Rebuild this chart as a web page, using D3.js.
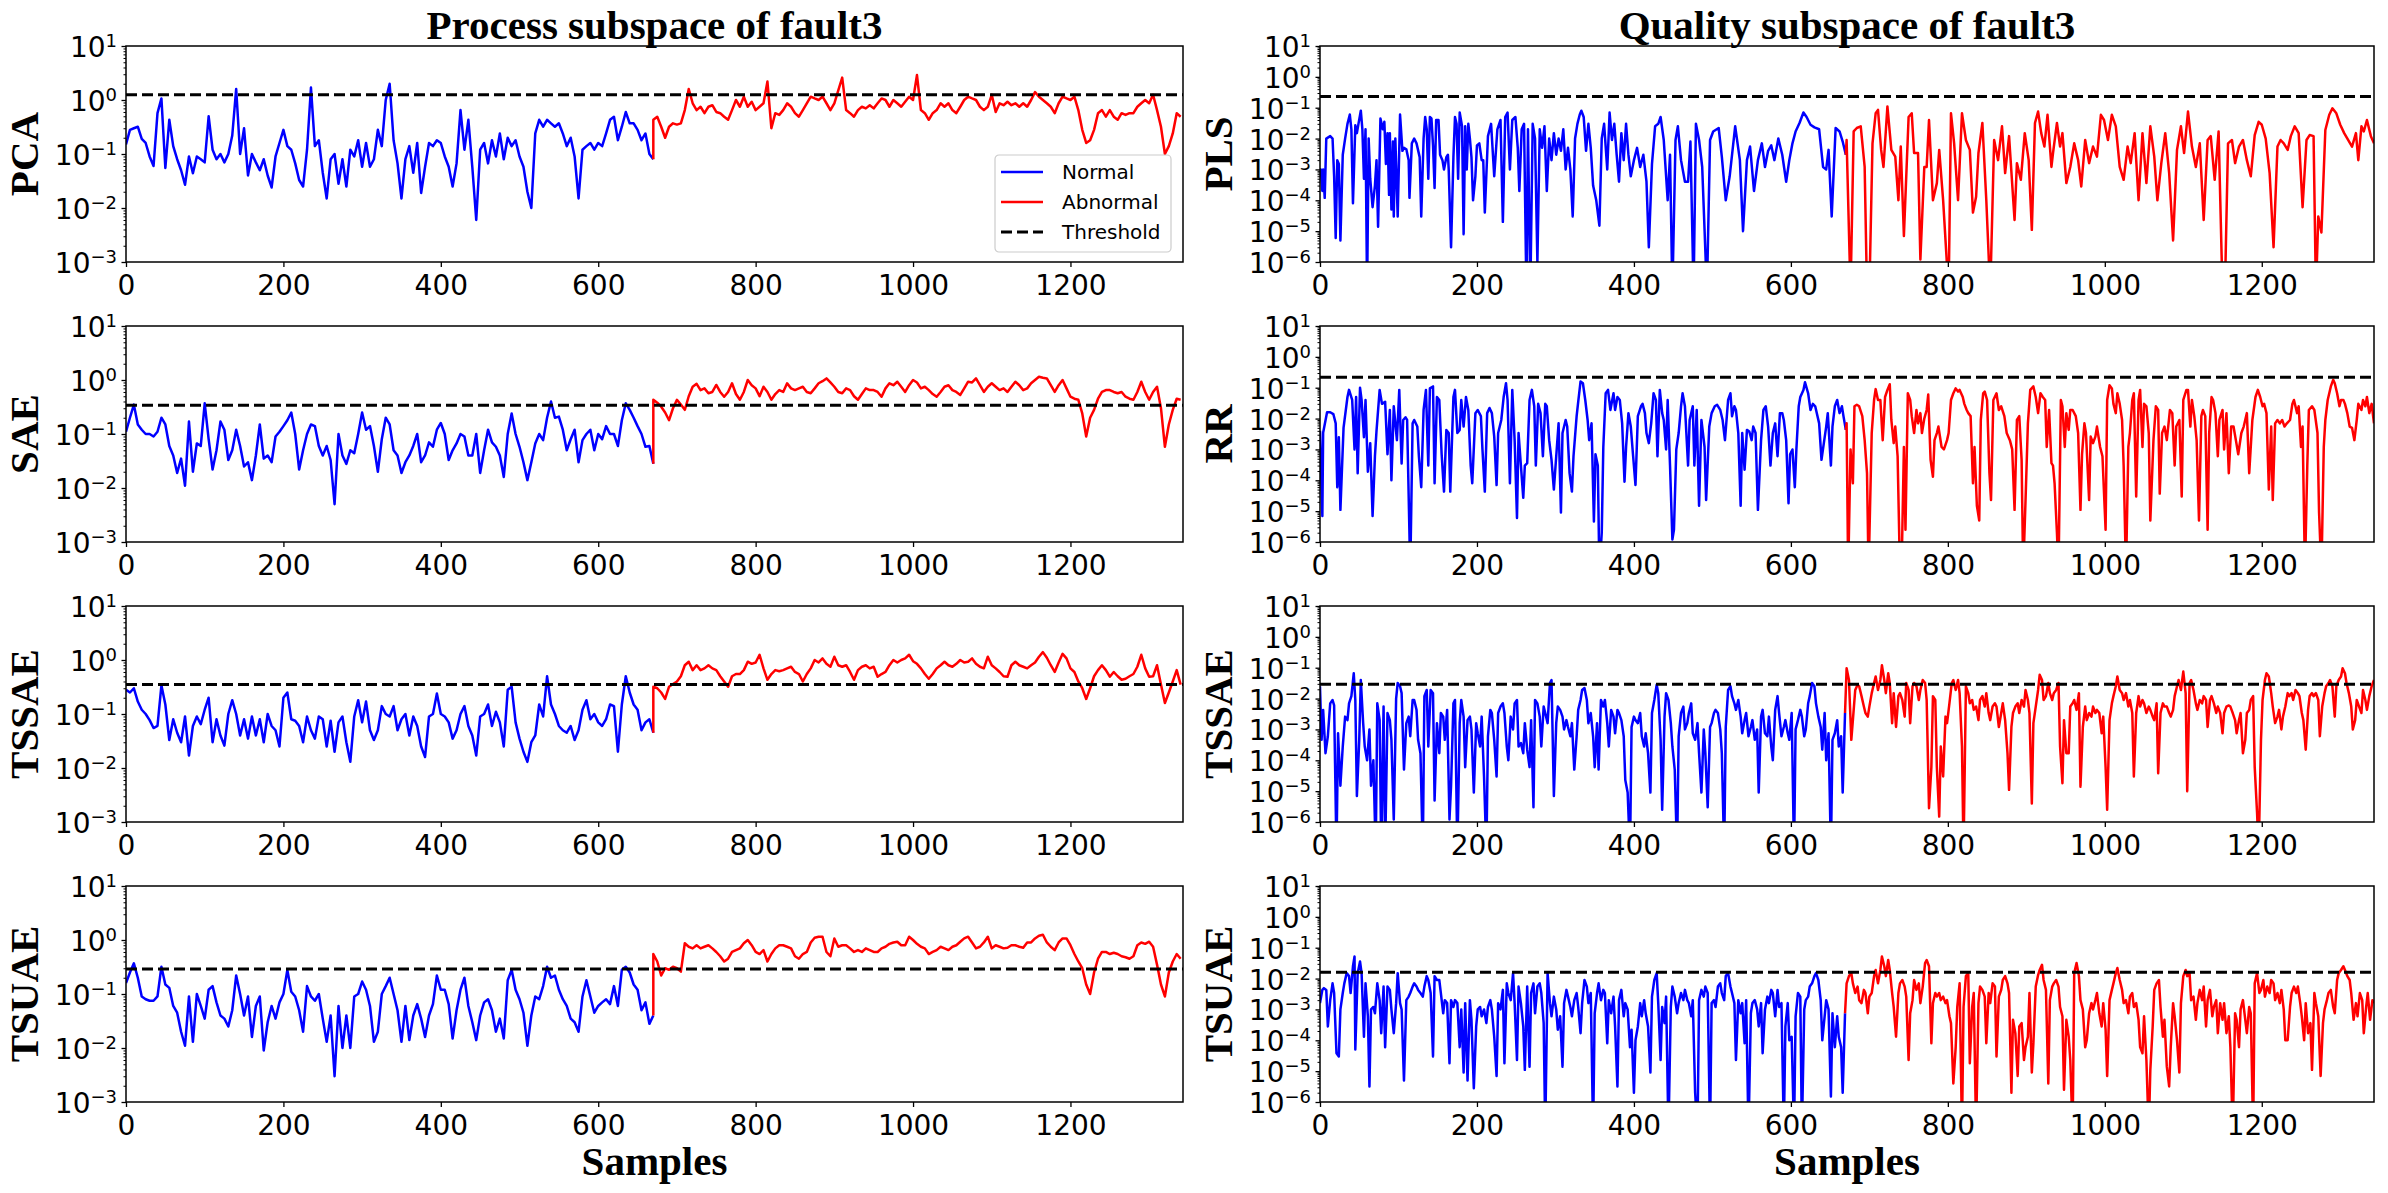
<!DOCTYPE html>
<html>
<head>
<meta charset="utf-8">
<script src="https://cdn.jsdelivr.net/npm/d3@7"></script>
<style>
html, body { margin: 0; padding: 0; background: #fff; }
svg { display: block; }
</style>
</head>
<body>
<div id="chart"></div>
<script>
// ---- data ----
const sampleMax = 1343;
const faultStart = 670;
const processStep = 5;
const xTicks = [0, 200, 400, 600, 800, 1000, 1200];
const processTickExps = [1, 0, -1, -2, -3];
const qualityTickExps = [1, 0, -1, -2, -3, -4, -5, -6];
const panelTitles = ["Process subspace of fault3", "Quality subspace of fault3"];
const legendLabels = ["Normal", "Abnormal", "Threshold"];

// process subspace statistics, one value every 5 samples
const pcaNormal = [0.15,0.28,0.3,0.32,0.19,0.16,0.09,0.06,0.57,1.07,
0.055,0.43,0.14,0.08,0.05,0.027,0.09,0.044,0.09,0.08,
0.07,0.5,0.12,0.08,0.1,0.07,0.1,0.22,1.6,0.1,
0.3,0.04,0.1,0.07,0.05,0.08,0.04,0.024,0.09,0.16,
0.28,0.14,0.12,0.067,0.033,0.025,0.12,1.7,0.14,0.18,
0.045,0.015,0.08,0.1,0.028,0.08,0.025,0.12,0.09,0.18,
0.058,0.16,0.058,0.08,0.28,0.14,1.0,2.0,0.18,0.067,
0.015,0.08,0.14,0.045,0.16,0.019,0.058,0.16,0.14,0.18,
0.16,0.09,0.058,0.025,0.067,0.65,0.12,0.43,0.058,0.006,
0.12,0.16,0.067,0.18,0.09,0.24,0.08,0.2,0.14,0.18,
0.09,0.058,0.02,0.01,0.24,0.43,0.32,0.43,0.37,0.32,
0.37,0.24,0.14,0.2,0.09,0.015,0.12,0.14,0.16,0.12,
0.16,0.14,0.24,0.43,0.49,0.18,0.32,0.6,0.37,0.37,
0.28,0.18,0.24,0.1,0.08];
const pcaAbnormal = [0.43,0.49,0.32,0.2,0.32,0.37,0.35,0.37,0.65,1.6,
0.87,0.65,0.75,0.57,0.75,0.8,0.6,0.57,0.49,0.43,
0.65,1.0,0.75,1.15,0.75,0.93,0.65,0.75,0.87,2.2,
0.3,0.57,0.53,0.65,0.87,0.75,0.57,0.49,0.65,0.87,
1.15,1.07,1.0,1.15,0.87,0.65,0.87,1.5,2.6,0.65,
0.57,0.49,0.65,0.75,0.7,0.8,0.7,0.87,1.07,1.0,
0.75,1.0,0.87,0.75,0.93,1.15,1.0,2.9,0.65,0.57,
0.43,0.57,0.65,0.87,0.75,0.87,0.65,0.57,0.75,1.0,
1.15,1.07,1.0,0.75,0.65,0.75,1.25,0.6,0.87,0.8,
0.93,0.8,0.87,0.75,0.87,0.75,1.0,1.4,1.15,1.0,
0.87,0.75,0.57,0.87,1.15,1.07,1.0,1.15,0.65,0.28,
0.16,0.18,0.28,0.57,0.65,0.49,0.65,0.49,0.43,0.57,
0.53,0.57,0.57,0.75,0.87,1.0,0.87,1.25,0.65,0.32,
0.1,0.14,0.24,0.57,0.49];

const saeNormal = [0.11,0.2,0.35,0.15,0.12,0.1,0.1,0.09,0.11,0.2,
0.15,0.06,0.04,0.019,0.035,0.011,0.17,0.02,0.067,0.06,
0.37,0.08,0.022,0.05,0.17,0.12,0.033,0.05,0.12,0.06,
0.025,0.03,0.014,0.04,0.15,0.035,0.04,0.03,0.09,0.11,
0.14,0.18,0.25,0.1,0.022,0.05,0.1,0.15,0.14,0.06,
0.04,0.06,0.033,0.005,0.1,0.04,0.028,0.05,0.044,0.1,
0.25,0.12,0.14,0.06,0.02,0.08,0.2,0.15,0.05,0.04,
0.019,0.03,0.04,0.06,0.1,0.03,0.04,0.07,0.058,0.12,
0.16,0.1,0.033,0.05,0.067,0.1,0.09,0.04,0.04,0.1,
0.019,0.05,0.12,0.07,0.058,0.04,0.016,0.1,0.24,0.1,
0.058,0.03,0.014,0.03,0.067,0.1,0.077,0.2,0.4,0.2,
0.21,0.12,0.05,0.08,0.12,0.03,0.077,0.1,0.12,0.05,
0.1,0.08,0.14,0.1,0.1,0.06,0.18,0.37,0.28,0.2,
0.14,0.1,0.058,0.06,0.028];
const saeAbnormal = [0.43,0.38,0.32,0.25,0.18,0.3,0.43,0.35,0.28,0.5,
0.75,0.85,0.65,0.7,0.57,0.6,0.81,0.6,0.49,0.6,
0.87,0.55,0.43,0.6,1.0,0.8,0.7,0.5,0.75,0.6,
0.43,0.55,0.65,0.6,0.87,0.7,0.65,0.7,0.75,0.6,
0.57,0.7,0.87,0.95,1.07,0.9,0.75,0.6,0.57,0.7,
0.65,0.5,0.43,0.55,0.7,0.65,0.65,0.6,0.49,0.7,
0.87,0.8,0.93,0.75,0.6,0.8,1.0,0.9,0.7,0.75,
0.65,0.55,0.49,0.6,0.75,0.8,0.65,0.6,0.53,0.7,
0.93,0.9,1.07,0.8,0.6,0.75,0.87,0.75,0.65,0.7,
0.6,0.75,0.93,0.8,0.65,0.7,0.87,1.0,1.15,1.1,
1.07,0.8,0.6,0.8,1.0,0.7,0.49,0.45,0.43,0.24,
0.09,0.2,0.28,0.45,0.6,0.65,0.65,0.6,0.57,0.6,
0.49,0.45,0.43,0.6,0.93,0.6,0.43,0.6,0.75,0.3,
0.058,0.15,0.28,0.45,0.43];

const tssaeNormal = [0.28,0.25,0.3,0.17,0.12,0.1,0.077,0.055,0.06,0.34,
0.15,0.033,0.08,0.045,0.03,0.09,0.017,0.06,0.09,0.065,
0.12,0.2,0.03,0.08,0.04,0.026,0.1,0.18,0.1,0.04,
0.08,0.035,0.09,0.04,0.08,0.03,0.1,0.06,0.05,0.025,
0.2,0.25,0.08,0.075,0.06,0.03,0.09,0.05,0.035,0.09,
0.08,0.025,0.075,0.02,0.07,0.09,0.03,0.013,0.09,0.18,
0.07,0.17,0.05,0.033,0.05,0.14,0.1,0.09,0.14,0.05,
0.08,0.1,0.04,0.09,0.06,0.025,0.016,0.09,0.1,0.24,
0.1,0.09,0.07,0.035,0.05,0.1,0.14,0.06,0.04,0.017,
0.09,0.1,0.15,0.06,0.11,0.07,0.025,0.28,0.32,0.07,
0.035,0.02,0.013,0.03,0.04,0.15,0.09,0.5,0.15,0.1,
0.06,0.05,0.045,0.06,0.033,0.05,0.12,0.18,0.08,0.1,
0.07,0.06,0.08,0.15,0.14,0.02,0.15,0.5,0.25,0.15,
0.12,0.05,0.07,0.08,0.045];
const tssaeAbnormal = [0.32,0.3,0.25,0.19,0.32,0.36,0.4,0.5,0.8,0.93,
0.65,0.8,0.65,0.7,0.8,0.7,0.65,0.5,0.4,0.32,
0.5,0.55,0.55,0.65,0.93,0.85,0.9,1.25,0.7,0.43,
0.55,0.65,0.62,0.65,0.7,0.75,0.6,0.55,0.4,0.55,
0.7,1.0,0.9,1.07,0.85,0.75,1.15,0.8,0.75,0.8,
0.6,0.43,0.65,0.75,0.8,0.7,0.75,0.49,0.55,0.6,
0.8,1.0,0.9,1.0,1.07,1.25,0.95,0.85,0.7,0.55,
0.45,0.55,0.7,0.8,0.93,0.8,0.75,0.85,1.0,0.9,
0.93,1.07,0.85,0.75,0.7,1.15,0.8,0.7,0.6,0.5,
0.49,0.8,0.93,0.8,0.75,0.7,0.8,0.9,1.15,1.4,
1.1,0.8,0.6,0.9,1.3,1.07,0.7,0.6,0.4,0.3,
0.19,0.3,0.5,0.65,0.8,0.65,0.49,0.6,0.5,0.43,
0.45,0.5,0.55,0.75,1.25,0.7,0.49,0.5,0.8,0.35,
0.16,0.25,0.4,0.65,0.35];

const tsuaeNormal = [0.16,0.25,0.37,0.2,0.09,0.08,0.075,0.075,0.09,0.32,
0.15,0.13,0.06,0.045,0.02,0.011,0.09,0.013,0.1,0.06,
0.035,0.12,0.14,0.07,0.04,0.035,0.025,0.05,0.22,0.1,
0.04,0.09,0.016,0.06,0.09,0.009,0.03,0.06,0.035,0.07,
0.1,0.28,0.11,0.09,0.05,0.02,0.14,0.09,0.075,0.1,
0.035,0.013,0.04,0.003,0.06,0.01,0.04,0.01,0.09,0.1,
0.17,0.12,0.06,0.013,0.02,0.1,0.14,0.2,0.1,0.05,
0.013,0.06,0.014,0.04,0.065,0.035,0.016,0.04,0.065,0.22,
0.12,0.12,0.065,0.015,0.05,0.12,0.2,0.06,0.03,0.014,
0.04,0.07,0.08,0.05,0.02,0.035,0.015,0.18,0.28,0.12,
0.08,0.045,0.011,0.04,0.09,0.08,0.14,0.32,0.2,0.22,
0.12,0.08,0.06,0.035,0.03,0.02,0.09,0.18,0.09,0.045,
0.06,0.07,0.08,0.065,0.14,0.06,0.28,0.32,0.25,0.15,
0.12,0.05,0.07,0.028,0.04];
const tsuaeAbnormal = [0.55,0.4,0.22,0.3,0.28,0.32,0.3,0.26,0.87,0.75,
0.7,0.8,0.7,0.75,0.8,0.7,0.6,0.5,0.4,0.45,
0.6,0.65,0.7,0.87,1.0,0.8,0.6,0.55,0.65,0.4,
0.55,0.7,0.8,0.8,0.75,0.7,0.5,0.45,0.55,0.6,
0.9,1.1,1.15,1.15,0.6,0.5,1.07,0.75,0.8,0.8,
0.7,0.6,0.65,0.6,0.7,0.65,0.6,0.6,0.7,0.75,
0.85,0.9,0.93,0.8,0.8,1.15,1.0,0.85,0.75,0.7,
0.55,0.6,0.65,0.75,0.7,0.65,0.75,0.8,0.93,1.07,
1.15,0.9,0.7,0.75,0.9,1.15,0.7,0.8,0.75,0.7,
0.72,0.8,0.8,0.75,0.72,0.9,0.9,1.07,1.2,1.25,
0.9,0.75,0.65,0.9,1.07,1.07,0.8,0.55,0.4,0.3,
0.15,0.1,0.25,0.45,0.6,0.6,0.55,0.58,0.55,0.5,
0.48,0.45,0.5,0.8,0.9,0.85,0.93,0.75,0.35,0.15,
0.09,0.25,0.4,0.55,0.45];

// quality subspace statistics, [sample, value]; values under 1e-6 fall off the axis
const plsNormal = [[0,1e-3],[1,1e-3],[3,2e-4],[4,1e-3],[6,1.2e-4],[8,1e-2],[13,1.2e-2],[16,1e-2],[18,6e-4],[20,6e-6],[22,2e-3],[24,1.5e-3],[26,5e-6],[29,3e-3],[32,1e-2],[35,3e-2],[38,6e-2],[40,2e-2],[42,8e-5],[45,2.7e-2],[47,1.5e-2],[49,3e-2],[52,8e-2],[54,2e-2],[56,5e-4],[58,2e-2],[60,1e-7],[62,1e-2],[64,5e-4],[67,6e-5],[70,3e-4],[72,2e-3],[74,1.4e-5],[77,4.5e-2],[80,2e-2],[82,3.5e-2],[84,1.5e-3],[86,1.5e-2],[88,1.5e-4],[89,1.5e-2],[91,5e-5],[93,8e-3],[94,3e-5],[96,1e-2],[99,3e-5],[102,6e-2],[105,4e-3],[107,5e-3],[110,4.5e-3],[113,2e-3],[114,1.2e-4],[117,7e-3],[120,1e-2],[123,7e-3],[127,2.5e-3],[129,3e-5],[132,1e-2],[134,5e-2],[136,2e-2],[138,5e-4],[140,5e-2],[142,4.5e-2],[144,6e-3],[146,2.5e-4],[148,4e-2],[151,4e-2],[153,3e-3],[156,2e-3],[158,1e-3],[161,2.5e-3],[163,3e-3],[164,1e-3],[167,3e-6],[170,2.5e-3],[172,5e-2],[174,3e-2],[176,5e-4],[178,7e-2],[181,2.5e-2],[183,8e-6],[185,2.5e-2],[187,1e-3],[189,3e-2],[191,1e-2],[193,2.5e-3],[195,1e-4],[198,6e-4],[200,6e-3],[203,7e-3],[206,2e-3],[208,2e-3],[210,4e-5],[214,1.2e-2],
[218,3e-2],[222,6e-4],[226,2e-2],[230,4e-2],[233,2e-5],[236,5e-2],[239,7e-2],[242,1e-3],[245,4e-2],[249,5e-2],[252,5e-3],[254,2e-4],[257,2e-2],[260,3e-2],[263,1e-7],[265,2e-2],[268,1e-7],[271,3e-2],[274,1e-2],[277,1e-6],[280,2e-2],[283,5e-3],[286,2.5e-2],[289,2e-4],[292,1e-2],[295,2e-3],[298,1.5e-2],[301,3e-3],[304,1e-2],[307,4e-3],[310,2e-2],[313,1e-3],[316,5e-3],[319,1e-3],[322,3e-5],[325,1e-2],[328,3e-2],[331,6e-2],[333,8e-2],[336,5e-2],[339,4e-3],[342,3e-2],[345,5e-3],[348,3e-4],[352,1e-4],[356,1.5e-5],[359,1e-2],[362,3e-2],[366,1e-3],[369,7e-2],[372,9e-3],[375,3e-2],[378,3e-3],[381,4e-4],[384,1.5e-2],[387,2e-3],[390,3e-2],[393,3e-3],[396,6e-4],[400,2e-3],[404,5e-3],[408,1.2e-3],[412,3e-3],[416,4e-4],[419,3e-6],[423,1.5e-3],[427,2.5e-2],[431,3e-2],[434,5e-2],[438,9e-3],[443,1e-4],[446,3e-3],[449,1e-7],[453,9e-3],[456,2.5e-2],[460,2e-3],[465,4e-4],[469,4e-4],[472,8e-3],[476,1e-7],[479,3e-2],[483,9e-3],[487,1.2e-3],[493,1e-7],[497,9e-3],[501,1.7e-2],[508,2.2e-2],[512,2.6e-3],[517,1e-4],[522,6e-4],[529,2.5e-2],[535,2e-3],[539,1e-5],[544,2e-3],[548,5.5e-3],[553,2e-4],[558,2e-3],[563,7e-3],[567,1.2e-3],[571,4e-3],[575,6e-3],[579,2e-3],[584,1e-2],[589,3e-3],[594,4e-4],[598,2e-3],[602,7e-3],[606,1.7e-2],[611,3.2e-2],[616,7e-2],[620,5e-2],[625,2.8e-2],[630,2.3e-2],[636,2e-2],[641,1.2e-3],[645,1e-3],[648,4.3e-3],[652,3e-5],[657,2.2e-2],[662,1.7e-2],[666,8e-3],[670,3e-3]];
const plsAbnormal = [[671,9e-3],[676,1e-7],[680,1.7e-2],[684,2.2e-2],[689,2.5e-2],[694,1.2e-3],[697,1e-7],[700,1e-7],[704,7e-3],[708,6.6e-2],[711,8.5e-2],[715,4.3e-3],[718,1.2e-3],[723,1.1e-1],[728,4.3e-3],[733,2.6e-3],[737,1e-4],[740,5.5e-3],[744,7e-6],[750,5e-2],[754,6.6e-2],[757,3.4e-3],[762,3.4e-3],[765,1.2e-6],[770,1.2e-3],[773,1.2e-3],[776,4e-2],[781,1e-4],[786,3.6e-4],[789,4.3e-3],[794,1e-4],[801,1e-7],[804,6.6e-2],[808,7e-3],[813,1e-4],[818,6.6e-2],[823,9e-3],[828,4.3e-3],[832,4e-5],[836,1.3e-4],[839,3.4e-3],[844,3.2e-2],[849,1e-4],[854,1e-7],[859,9e-3],[864,2e-3],[869,2.5e-2],[873,7.6e-4],[878,1.2e-2],[885,2.3e-5],[888,1.6e-3],[893,4.6e-4],[898,1.5e-2],[903,2e-3],[907,1.1e-5],[911,3.2e-2],[915,7.5e-2],[919,1.5e-2],[923,5.5e-3],[927,5.9e-2],[932,1.2e-3],[934,3.4e-3],[939,3.2e-2],[943,5.5e-3],[946,1.5e-2],[951,3.6e-4],[956,1.2e-3],[961,7e-3],[966,2e-3],[970,2.8e-4],[975,9e-3],[980,1.6e-3],[985,5.5e-3],[990,2.6e-3],[995,5.9e-2],[999,4e-2],[1004,9e-3],[1009,5.9e-2],[1014,2.5e-2],[1019,1.2e-3],[1024,4.6e-4],[1029,5.5e-3],[1033,1.6e-3],[1038,1.5e-2],[1043,1e-4],[1048,1.5e-2],[1053,3.6e-4],[1058,2.5e-2],[1063,2.6e-3],[1067,1e-4],[1072,1.6e-3],[1077,1.5e-2],[1082,7.6e-4],[1087,5e-6],[1092,4.3e-3],[1097,2.5e-2],[1101,3.4e-3],[1106,7.5e-2],[1111,5.5e-3],[1116,1.2e-3],[1121,7e-3],[1126,2.3e-5],[1131,9e-3],[1135,1.2e-2],[1140,4.6e-4],[1145,1.7e-2],[1150,1e-7],[1153,1e-7],[1157,7e-3],[1162,9e-3],[1166,1.6e-3],[1171,5.5e-3],[1176,9e-3],[1181,2e-3],[1186,6e-4],[1191,1.3e-2],[1196,3.5e-2],[1200,2.8e-2],[1205,1e-2],[1210,7.6e-4],[1215,3e-6],[1220,5.5e-3],[1224,9e-3],[1228,7e-3],[1233,4.3e-3],[1237,1.2e-2],[1242,2.5e-2],[1247,1.5e-2],[1252,6e-5],[1257,9e-3],[1261,1.3e-2],[1266,1.2e-2],[1269,1e-7],[1272,3e-5],[1276,9e-6],[1281,1.9e-2],[1286,5.9e-2],[1290,9.6e-2],[1295,6.6e-2],[1300,2.8e-2],[1305,1.5e-2],[1310,9e-3],[1315,5.5e-3],[1320,1.5e-2],[1323,2e-3],[1327,2.5e-2],[1330,1.7e-2],[1334,4e-2],[1339,1.2e-2],[1343,7e-3]];

const rrNormal = [[0,4e-3],[3,7e-6],[4,3.5e-3],[9,1.6e-2],[13,1.6e-2],[17,1.4e-2],[20,7e-3],[22,6e-5],[24,2.5e-3],[26,1.1e-5],[30,5e-3],[35,5e-2],[37,8.5e-2],[41,4e-2],[44,1e-3],[46,5e-2],[48,1.7e-4],[51,1e-1],[53,4e-2],[56,2.5e-3],[58,4e-2],[61,1.9e-4],[64,1.6e-3],[67,7e-6],[70,6e-4],[72,4e-3],[76,8.5e-2],[79,3e-2],[83,3.5e-2],[86,7e-4],[89,1.9e-2],[91,1e-4],[94,2.5e-2],[98,2e-3],[101,8.5e-2],[104,3.5e-4],[106,9e-3],[109,1.1e-2],[111,9e-3],[115,1e-7],[118,7e-3],[120,9e-3],[124,5.5e-3],[126,6e-4],[129,6e-5],[132,1.9e-2],[135,8.5e-2],[138,3e-4],[140,9.5e-2],[144,1.1e-1],[146,8e-5],[149,5e-2],[152,4e-2],[155,7e-4],[158,4.3e-5],[161,4.3e-3],[164,3.4e-3],[166,4.3e-5],[170,5e-2],[172,8.5e-2],[175,3.4e-3],[178,4.3e-3],[180,4e-2],[183,5.5e-3],[186,5e-2],[189,1.9e-2],[192,3e-4],[194,8e-5],[198,1.5e-2],[201,1.9e-2],[205,1.2e-2],[207,1e-3],[210,4.3e-5],[213,1.5e-2],[216,2.2e-2],[219,1.5e-2],[222,2.6e-3],[225,7e-5],[227,3.4e-3],[231,9e-3],[234,5e-2],[237,1.4e-1],[239,4e-2],[242,8e-5],[245,8.5e-2],[248,2e-3],[251,6e-6],[253,3.4e-3],[256,3e-4],[259,2.7e-5],[261,3e-4],[264,3.6e-4],[267,4e-2],[270,8.5e-2],[273,2.5e-2],[275,3e-4],[278,3e-2],[281,1.5e-2],[284,6e-4],[287,3e-2],[289,2.5e-2],[292,2e-3],[295,4.6e-4],[298,5e-5],[301,6e-4],[304,7e-3],[307,9e-6],[309,3.4e-3],[313,9e-3],[315,5.5e-3],[318,1.7e-4],[321,4.3e-5],[323,6e-4],[327,1.2e-2],[329,3.5e-2],[332,1.6e-1],[335,1.4e-1],[338,4e-2],[341,9e-3],[343,2e-3],[346,7e-3],[349,4.6e-6],[351,7e-4],[354,3e-4],[356,1e-7],[359,2e-6],[361,1.2e-3],[364,6.6e-2],[367,8.5e-2],[370,1.9e-2],[374,6.6e-2],[376,1.9e-2],[379,5e-2],[382,4e-2],[385,7e-3],[388,9e-5],[390,1.2e-3],[393,1.5e-2],[396,5.5e-3],[399,6e-4],[402,7e-5],[405,1.2e-2],[409,2.5e-2],[411,3e-2],[414,1.5e-2],[416,3.4e-3],[419,1.6e-3],[422,7e-3],[425,6.6e-2],[428,4e-2],[430,6e-4],[433,8.5e-2],[436,1.5e-2],[438,9e-3],[441,1e-3],[443,4e-2],[446,3e-4],[449,1.2e-6],[451,2.5e-6],[454,1e-3],[457,3.4e-3],[460,2.5e-2],[462,6.6e-2],[465,2.5e-2],[469,3e-4],[471,9e-3],[475,2.5e-2],[477,3e-4],[480,1.9e-2],[483,1.5e-5],[486,9e-3],[490,1.2e-3],[492,2.3e-5],[496,5.5e-3],[499,1.5e-2],[503,2.5e-2],[506,2.8e-2],[510,1.9e-2],[513,9e-3],[516,2e-3],[520,4e-2],[523,6.6e-2],[525,1.2e-2],[528,2.5e-2],[530,1.9e-2],[533,3.4e-3],[536,1.5e-5],[538,3.4e-3],[541,2.2e-4],[544,4.3e-3],[547,3.8e-3],[550,2e-3],[552,5.5e-3],[555,3.4e-3],[558,1.1e-5],[562,2e-3],[565,1.9e-2],[568,2.5e-2],[571,5.5e-3],[574,3e-4],[577,3.4e-3],[580,7e-3],[583,6e-4],[586,1.5e-2],[589,1.5e-2],[591,9e-3],[594,2e-3],[597,1.8e-5],[599,7e-4],[602,1e-3],[605,6e-5],[607,1e-3],[610,2.5e-2],[612,5e-2],[616,8.5e-2],[618,1.5e-1],[622,6.6e-2],[625,1.9e-2],[628,3e-2],[631,2.5e-2],[636,7e-3],[639,4.6e-4],[642,1.6e-3],[645,5.5e-3],[647,1.5e-2],[651,3e-4],[653,5.5e-3],[656,2.5e-2],[659,4e-2],[662,1.5e-2],[665,2.5e-2],[667,1.2e-2],[670,4.3e-3]];
const rrAbnormal = [[671,7e-3],[673,1e-7],[676,1e-3],[679,8e-5],[681,2.5e-2],[684,2.8e-2],[687,2.5e-2],[691,1.2e-2],[694,2e-3],[697,1.7e-4],[699,1e-7],[703,3.4e-3],[706,4e-2],[708,9e-2],[711,4e-2],[714,4e-2],[717,2e-3],[720,5e-2],[723,8.5e-2],[726,1.3e-1],[728,9e-3],[731,1.6e-3],[733,5.5e-3],[736,6e-4],[739,1e-7],[741,1e-7],[744,1.2e-3],[746,2.5e-6],[749,6.6e-2],[752,4e-2],[754,1.2e-2],[757,3.4e-3],[760,1.9e-2],[762,7e-3],[765,1.5e-2],[767,3.4e-3],[770,1e-2],[773,1.9e-2],[775,6e-2],[778,4.6e-4],[781,1.3e-4],[783,2e-3],[786,3.4e-3],[788,5.5e-3],[792,1.2e-3],[795,1e-3],[799,2e-3],[801,3.4e-3],[804,4e-2],[807,6.6e-2],[810,9.5e-2],[813,7.5e-2],[815,8.5e-2],[819,5e-2],[821,3e-2],[824,1.9e-2],[826,1.5e-2],[829,1.2e-2],[832,8e-5],[834,1.2e-3],[837,1.5e-5],[840,5e-6],[842,9e-3],[845,6.6e-2],[847,7.5e-2],[850,4e-2],[853,1.7e-4],[855,2.3e-5],[858,4e-2],[862,6.6e-2],[865,1.9e-2],[868,2.5e-2],[872,1.2e-2],[875,3.4e-3],[879,2e-3],[882,1e-3],[885,1.1e-5],[888,9e-3],[891,1.2e-2],[894,4.6e-4],[896,1e-7],[899,2.3e-5],[902,7e-3],[905,8.5e-2],[909,1.1e-1],[912,5e-2],[915,1.5e-2],[918,6.6e-2],[921,5e-2],[924,4e-2],[926,1.2e-3],[929,1.9e-2],[932,3.6e-4],[934,3e-4],[936,8e-5],[939,2e-6],[941,1e-7],[944,4e-2],[946,2.5e-2],[949,1.2e-3],[951,1.5e-2],[954,4.3e-3],[956,1.9e-2],[959,1.9e-2],[963,1.2e-2],[966,3.4e-3],[969,1.1e-5],[971,7e-4],[974,7e-3],[976,3.4e-3],[980,2.3e-5],[982,2.6e-3],[985,1.6e-3],[988,2.6e-3],[990,5.5e-3],[994,1.2e-3],[997,6e-4],[1001,2.5e-6],[1003,4e-2],[1006,1.2e-1],[1009,9.5e-2],[1011,3e-2],[1014,1.5e-2],[1016,6.6e-2],[1019,3e-2],[1022,9e-3],[1024,3e-4],[1027,1e-7],[1030,1.2e-3],[1032,3.4e-3],[1035,4e-2],[1037,6.6e-2],[1040,3e-5],[1043,4e-2],[1045,8.5e-2],[1048,1.2e-3],[1050,3e-2],[1053,2.5e-2],[1056,3.4e-3],[1058,5e-6],[1062,2e-3],[1065,2.5e-2],[1068,1.9e-2],[1070,3.7e-5],[1073,3.4e-3],[1076,5.5e-3],[1079,2e-3],[1083,1.9e-2],[1086,1.5e-2],[1089,3e-4],[1091,5.5e-3],[1095,9e-3],[1098,3e-5],[1100,4e-2],[1104,8.5e-2],[1106,8.5e-2],[1109,5.5e-3],[1111,4e-2],[1114,1.2e-2],[1117,2e-3],[1120,5e-6],[1123,1.2e-2],[1125,1.9e-2],[1128,1.2e-2],[1131,2.5e-6],[1133,3.4e-3],[1136,5e-2],[1138,4e-2],[1141,1.5e-2],[1144,6e-4],[1146,9e-3],[1150,1.9e-2],[1152,1e-3],[1155,1.5e-2],[1158,1.7e-4],[1161,5.5e-3],[1164,5.5e-3],[1167,2e-3],[1170,7e-4],[1174,3.4e-3],[1177,5.5e-3],[1181,1.5e-2],[1184,1.7e-4],[1188,9e-3],[1192,5e-2],[1195,8.5e-2],[1198,5e-2],[1201,2.5e-2],[1203,3e-2],[1206,1.5e-2],[1209,5e-5],[1212,5.5e-3],[1214,2.3e-5],[1217,7e-3],[1220,9e-3],[1223,7e-3],[1226,9e-3],[1229,5.5e-3],[1232,7e-3],[1236,9e-3],[1239,3e-2],[1241,4e-2],[1245,1.5e-2],[1247,2.5e-2],[1250,1.2e-3],[1252,5.5e-3],[1255,1e-7],[1258,3e-4],[1260,1.9e-2],[1264,2.5e-2],[1267,1.9e-2],[1271,3.4e-3],[1273,9e-6],[1276,1e-7],[1279,1.2e-3],[1281,9e-3],[1284,4e-2],[1288,1.1e-1],[1291,1.8e-1],[1293,1.4e-1],[1296,6.6e-2],[1299,2.5e-2],[1301,4e-2],[1304,4e-2],[1306,3e-2],[1309,1.5e-2],[1312,5.5e-3],[1315,5e-3],[1318,2e-3],[1321,9e-3],[1323,3e-2],[1327,1.9e-2],[1329,4e-2],[1332,2.5e-2],[1334,5e-2],[1337,1.5e-2],[1340,3e-2],[1343,7e-3]];

const tssaeQNormal = [[0,2.5e-2],[2,4.6e-4],[4,4.3e-3],[7,1.7e-4],[10,6e-4],[13,7e-3],[16,9e-3],[18,6e-3],[21,1e-7],[23,7.5e-4],[26,1.5e-5],[29,2.8e-4],[32,2.6e-3],[35,2e-3],[37,7e-3],[40,1.2e-2],[43,6.6e-2],[45,9e-3],[47,7e-6],[50,4.6e-4],[52,4e-2],[55,1.6e-3],[57,2.8e-4],[60,1e-4],[63,1e-3],[65,1.5e-5],[68,1e-4],[71,1e-7],[73,7e-3],[76,2e-3],[78,1e-7],[81,5.5e-3],[83,1e-7],[86,3.4e-3],[89,2e-3],[91,4.6e-4],[94,1.2e-6],[97,1e-2],[99,3.2e-2],[102,2.5e-2],[104,1.5e-2],[107,5e-5],[110,1.6e-3],[113,2.6e-3],[115,6e-4],[118,9e-3],[120,9e-3],[123,4.3e-3],[125,4.6e-4],[128,1.7e-4],[131,1e-7],[133,1.2e-2],[136,1.9e-2],[138,2.8e-4],[141,1.9e-2],[144,1.5e-2],[146,5e-6],[149,1.6e-3],[152,1.7e-4],[154,3.4e-3],[157,2.6e-3],[159,4.6e-4],[162,4.3e-3],[165,1.2e-6],[167,1.5e-5],[170,7e-3],[172,9e-3],[175,1e-7],[178,1.6e-3],[180,9e-3],[183,2.6e-3],[185,6e-5],[188,2e-3],[191,2.6e-3],[193,1e-3],[196,9e-6],[199,1.6e-3],[201,7.5e-4],[204,2.8e-4],[206,2.6e-3],[209,3e-5],[212,1e-7],[214,6e-4],[217,4.3e-3],[219,3.4e-3],[222,4.6e-4],[225,3e-5],[227,3.4e-3],[230,5.5e-3],[233,7e-3],[235,3.4e-3],[238,2.8e-4],[240,1e-4],[243,2.6e-3],[246,1e-3],[248,7e-3],[251,9e-3],[253,2.8e-4],[256,3.6e-4],[259,1.7e-4],[261,1.6e-3],[264,2.2e-4],[267,6e-5],[269,2e-3],[272,3e-6],[274,9e-3],[277,7e-3],[280,2.6e-3],[282,2.8e-4],[285,5.5e-3],[287,3.4e-3],[290,1.6e-3],[293,3.2e-2],[295,4e-2],[298,7e-6],[301,1.6e-3],[303,5.5e-3],[306,4.3e-3],[309,2.6e-3],[311,1e-3],[314,2e-3],[316,1.2e-3],[319,6e-4],[321,1.6e-3],[324,5e-5],[327,6e-4],[329,4.3e-3],[332,9e-3],[334,1.9e-2],[337,2.2e-2],[340,9e-3],[342,1.6e-3],[345,3.4e-3],[348,6e-4],[350,6e-5],[353,1.6e-3],[355,5e-5],[358,9e-3],[361,5.5e-3],[363,9e-3],[366,1.6e-3],[368,2.8e-4],[371,4.3e-3],[374,2.6e-3],[376,7.5e-4],[379,4.3e-3],[381,3.4e-3],[384,2e-3],[387,6e-4],[389,2.3e-5],[392,9e-6],[395,1e-7],[397,1.2e-3],[400,2.6e-3],[402,2e-3],[405,1.6e-3],[408,3.4e-3],[410,6e-4],[413,2.8e-4],[415,7.5e-4],[418,1.7e-4],[421,9e-6],[423,3.4e-3],[426,9e-3],[429,2.8e-2],[431,1.5e-2],[434,4.6e-4],[436,2.5e-6],[439,2.6e-3],[441,1.5e-2],[444,9e-3],[447,1.6e-3],[449,2.8e-4],[452,5e-5],[455,1e-7],[457,6e-4],[460,3.4e-3],[463,5.5e-3],[465,1e-3],[468,1.6e-3],[470,3.4e-3],[473,7e-3],[475,7.5e-4],[478,4.6e-4],[481,1.6e-3],[483,1.7e-4],[486,9e-6],[489,1e-3],[491,1.7e-4],[494,3e-6],[497,1.2e-3],[499,1.6e-3],[502,3.4e-3],[504,4.3e-3],[507,3.4e-3],[510,1e-3],[512,1.7e-4],[515,1e-7],[517,1.2e-3],[520,1.9e-2],[523,2.5e-2],[525,1.2e-2],[528,7e-3],[530,4.3e-3],[533,9e-3],[536,2.6e-3],[538,7.5e-4],[541,2e-3],[543,3.4e-3],[546,6e-4],[549,1.2e-3],[551,2e-3],[554,4.6e-4],[557,1e-3],[559,9e-6],[562,2.6e-3],[564,4.3e-3],[567,7.5e-4],[570,6e-4],[572,2.6e-3],[575,2.8e-4],[577,1e-4],[580,4.3e-3],[583,1.2e-2],[585,3.4e-3],[588,6e-4],[591,1.2e-3],[593,2e-3],[596,7.5e-4],[598,4.6e-4],[601,3.4e-3],[604,1e-7],[606,1e-3],[609,2e-3],[612,4.3e-3],[614,2.6e-3],[617,6e-4],[619,1e-3],[622,7e-3],[624,1.2e-2],[627,3.2e-2],[630,2.5e-2],[632,7e-3],[635,2.6e-3],[638,1.2e-3],[640,2.2e-4],[643,3.4e-3],[645,1e-4],[648,7.5e-4],[651,1e-7],[653,4.6e-4],[656,7.5e-4],[659,2e-3],[661,2.8e-4],[664,6e-4],[666,9e-6],[669,3.4e-3]];
const tssaeQAbnormal = [[671,9.6e-2],[674,4e-2],[677,4.6e-4],[679,2e-3],[682,1.9e-2],[685,2.8e-2],[687,2.5e-2],[690,1.2e-2],[693,5.5e-3],[695,3.4e-3],[698,2.6e-3],[700,5.5e-3],[703,1.5e-2],[706,3.2e-2],[708,5.2e-2],[711,1.9e-2],[714,4e-2],[716,1.2e-1],[719,4e-2],[721,1.5e-2],[724,6.6e-2],[726,3.2e-2],[729,1.6e-3],[731,1.5e-2],[734,1.2e-3],[737,1.2e-2],[739,1.5e-2],[742,9e-3],[745,2.6e-3],[747,3.2e-2],[750,1.9e-2],[752,1.6e-3],[755,2.5e-2],[757,3.2e-2],[760,2.5e-2],[763,9e-3],[765,1.9e-2],[768,4e-2],[771,3.2e-2],[773,9e-3],[776,2.8e-6],[779,6e-5],[781,1.2e-2],[784,9e-3],[786,6e-5],[789,1.5e-6],[791,2.8e-4],[794,3e-5],[797,2.6e-3],[799,1.6e-3],[802,7e-3],[805,3.2e-2],[807,4e-2],[810,1.9e-2],[813,4e-2],[815,1.5e-2],[818,2.8e-4],[820,1e-7],[823,2.5e-2],[826,1.5e-2],[828,7e-3],[831,9e-3],[833,4.3e-3],[836,5.5e-3],[839,2e-3],[841,9e-3],[844,1.2e-2],[847,5.5e-3],[849,1.5e-2],[852,3.4e-3],[854,2e-3],[857,5.5e-3],[860,7e-3],[862,5.5e-3],[865,1.2e-3],[868,3.4e-3],[870,7e-3],[873,2e-3],[876,1.7e-4],[878,1.1e-5],[881,1.2e-3],[883,3.4e-3],[886,5.5e-3],[889,7e-3],[891,3.4e-3],[894,9e-3],[897,5.5e-3],[899,1.9e-2],[902,9e-3],[904,3.4e-3],[907,4e-6],[909,1.6e-3],[912,5.5e-3],[915,1.9e-2],[917,5.9e-2],[920,4e-2],[922,9e-3],[925,1.2e-2],[928,3.2e-2],[930,1.5e-2],[933,9e-3],[935,1.5e-2],[938,1.9e-2],[941,3.2e-2],[943,2.8e-4],[946,1.8e-5],[948,2e-3],[951,1.7e-4],[954,1.7e-4],[956,5.5e-3],[959,7e-3],[961,9e-3],[964,4.3e-3],[967,1.5e-2],[969,1.4e-5],[972,1.2e-3],[975,5.5e-3],[977,2e-3],[980,3.4e-3],[983,2.6e-3],[985,5.5e-3],[988,3.4e-3],[990,4.3e-3],[993,3.4e-3],[996,7.5e-4],[998,2.6e-3],[1001,6e-5],[1003,2.5e-6],[1006,2e-3],[1009,7e-3],[1011,1.2e-2],[1014,2.5e-2],[1016,5.2e-2],[1019,1.9e-2],[1022,1.5e-2],[1024,9e-3],[1027,1.5e-2],[1030,5.5e-3],[1032,9e-3],[1035,3.4e-3],[1037,3e-5],[1040,3.4e-3],[1043,1.2e-2],[1045,5.5e-3],[1048,9e-3],[1050,7e-3],[1053,3.4e-3],[1056,5.5e-3],[1058,4.3e-3],[1061,2.6e-3],[1063,2e-3],[1066,7e-3],[1068,3.8e-5],[1071,3.4e-3],[1074,7e-3],[1076,5.5e-3],[1079,5.5e-3],[1082,3.4e-3],[1084,2.6e-3],[1087,4.3e-3],[1089,1.2e-2],[1092,2.5e-2],[1094,4e-2],[1097,1.9e-2],[1100,7.5e-2],[1103,1.5e-2],[1105,1e-5],[1108,3.2e-2],[1110,4e-2],[1113,1.9e-2],[1116,7e-3],[1118,4.3e-3],[1121,9e-3],[1124,7e-3],[1126,1.2e-2],[1129,9e-3],[1131,1.2e-3],[1134,9e-3],[1136,1.2e-2],[1139,7e-3],[1142,3.4e-3],[1144,5.5e-3],[1147,3.4e-3],[1150,7.5e-4],[1152,3.4e-3],[1155,5.5e-3],[1158,6e-3],[1160,5.5e-3],[1163,3.4e-3],[1166,2e-3],[1168,7.5e-4],[1171,2e-3],[1173,3.4e-3],[1176,1.7e-4],[1179,4.6e-4],[1181,3.4e-3],[1184,4.3e-3],[1186,9e-3],[1189,1.2e-2],[1191,6e-5],[1194,2e-6],[1196,1e-7],[1199,4.6e-4],[1201,9e-3],[1204,4e-2],[1206,6.6e-2],[1209,5.2e-2],[1212,1.5e-2],[1214,5.5e-3],[1217,1.6e-3],[1220,2.6e-3],[1222,4.3e-3],[1225,1e-3],[1227,2.6e-3],[1230,5.5e-3],[1233,1.5e-2],[1235,1.2e-2],[1238,1.5e-2],[1240,9e-3],[1243,1.9e-2],[1246,1.5e-2],[1248,1.2e-2],[1251,3.4e-3],[1253,2e-3],[1256,2.2e-4],[1259,4.3e-3],[1261,1.2e-2],[1264,1.5e-2],[1266,1.2e-2],[1269,1.5e-2],[1272,9e-3],[1274,6e-4],[1277,5.5e-3],[1280,1.5e-2],[1282,2.5e-2],[1285,3.2e-2],[1287,4e-2],[1290,2.5e-2],[1293,2.6e-3],[1295,2.5e-2],[1298,4e-2],[1301,5.2e-2],[1303,9.6e-2],[1306,6.6e-2],[1308,3.2e-2],[1311,1.5e-2],[1314,5.5e-3],[1316,1e-3],[1319,2e-3],[1321,9e-3],[1324,5.5e-3],[1327,3.4e-3],[1329,1.9e-2],[1332,9e-3],[1334,4.3e-3],[1337,1.2e-2],[1340,2.5e-2],[1343,4e-2]];

const tsuaeQNormal = [[0,1.6e-3],[3,4.3e-3],[5,4.9e-3],[8,4.3e-3],[10,2.8e-4],[13,2e-3],[16,7e-3],[18,3.4e-3],[21,3.8e-5],[24,3e-5],[26,1e-3],[29,3.4e-3],[31,7e-3],[34,1.5e-2],[37,1.2e-2],[39,3.4e-3],[42,2.5e-2],[44,5.2e-2],[45,5e-5],[48,1.5e-2],[51,3.6e-2],[53,1.5e-2],[56,1.3e-4],[58,7e-3],[61,6e-4],[63,3.2e-6],[65,1e-3],[68,1.2e-3],[70,7.5e-4],[73,7e-3],[76,2e-3],[78,1.7e-4],[81,5.5e-3],[83,6e-5],[86,5.5e-3],[89,4.3e-3],[91,1e-3],[94,1.7e-4],[97,1.6e-3],[99,1.5e-2],[102,1.6e-3],[104,1e-3],[107,5e-6],[110,2e-3],[113,2.6e-3],[115,3.4e-3],[118,5.5e-3],[120,7e-3],[123,5.5e-3],[125,4.3e-3],[128,3.4e-3],[131,2.6e-3],[133,5.5e-3],[136,1.2e-2],[138,9e-3],[141,3.4e-3],[144,3e-5],[146,1.2e-2],[149,9e-3],[152,9e-3],[154,3.4e-3],[157,7.5e-4],[159,2e-3],[162,1.6e-3],[165,1.8e-5],[167,2e-3],[170,1.2e-3],[172,2e-3],[175,1.6e-3],[178,6e-5],[180,1e-3],[183,9e-6],[185,1.6e-3],[188,5e-6],[191,2e-3],[193,4.6e-4],[196,2.8e-6],[199,2.8e-4],[201,1e-3],[204,1.2e-3],[206,6e-4],[209,1e-3],[212,3.6e-4],[214,1.2e-3],[217,2e-3],[219,1e-3],[222,1.3e-4],[225,7e-6],[227,1.6e-3],[230,1e-3],[233,4.3e-3],[235,1.8e-5],[238,7e-3],[240,3.4e-3],[243,2e-3],[246,1.5e-2],[248,1.6e-3],[251,2.3e-5],[253,5.5e-3],[256,1.6e-3],[259,2.8e-4],[261,1.1e-5],[264,5.5e-3],[267,1.4e-5],[269,3.4e-3],[272,7e-3],[274,7.5e-4],[277,5.5e-3],[280,7e-3],[282,3.4e-3],[285,3.6e-4],[287,1e-7],[290,1.5e-2],[293,1.6e-3],[295,6e-4],[298,2.6e-3],[301,1e-3],[303,2.2e-4],[306,6e-4],[309,1.4e-5],[311,1.6e-3],[314,4.3e-3],[316,2.6e-3],[319,1.2e-3],[321,6e-4],[324,2e-3],[327,3.4e-3],[329,1.2e-3],[332,1.7e-4],[334,1.6e-3],[337,9e-3],[340,5.5e-3],[342,1.6e-3],[345,3.4e-3],[348,1e-7],[350,7.5e-4],[353,3.4e-3],[355,7e-3],[358,2e-3],[361,4.3e-3],[363,3.4e-3],[366,8e-5],[368,2e-3],[371,7.5e-4],[374,2.6e-3],[376,2.8e-4],[379,3.2e-6],[381,2e-3],[384,4.3e-3],[387,6e-4],[389,1.6e-3],[392,1e-3],[395,6e-5],[397,2.2e-4],[400,2e-6],[402,1e-4],[405,2.8e-4],[408,1.6e-3],[410,6e-4],[413,2e-3],[415,7.5e-4],[418,2.8e-4],[421,9e-6],[423,2.6e-3],[426,9e-3],[429,1.5e-2],[431,1.6e-3],[434,2.3e-5],[436,1.2e-3],[439,3.6e-4],[441,2.6e-3],[444,1e-7],[447,1.2e-3],[449,5.5e-3],[452,2.6e-3],[455,7.5e-4],[457,1.6e-3],[460,3.4e-3],[463,2e-3],[465,4.3e-3],[468,2e-3],[470,1.6e-3],[473,6e-4],[475,2e-3],[478,2e-6],[481,1e-7],[483,2e-3],[486,4.3e-3],[489,2.6e-3],[491,5.5e-3],[494,3.4e-3],[497,1e-7],[499,1.6e-3],[502,2e-3],[504,1.2e-3],[507,5.5e-3],[510,7e-3],[512,3.4e-3],[515,2e-3],[517,1.2e-2],[520,1.5e-2],[523,5.5e-3],[525,3.4e-3],[528,1.6e-3],[530,2.3e-5],[533,2e-3],[536,7.5e-4],[538,1.6e-3],[541,8e-5],[543,2e-3],[546,1e-7],[549,7.5e-4],[551,1.6e-3],[554,2e-3],[557,1e-3],[559,2.8e-4],[562,1.6e-3],[564,3.8e-5],[567,1e-3],[570,2.6e-3],[572,1.6e-3],[575,4.3e-3],[577,3.4e-3],[580,6e-4],[583,4.3e-3],[585,1.2e-3],[588,1.6e-3],[591,1e-7],[593,2.8e-4],[596,1.6e-3],[598,1e-4],[601,1.3e-4],[604,1e-7],[606,6e-4],[609,3.4e-3],[612,2.6e-3],[614,1e-7],[617,1e-3],[619,2e-3],[622,2.6e-3],[624,5.5e-3],[627,7e-3],[630,1.2e-2],[632,1.5e-2],[635,9e-3],[638,2e-3],[640,1e-4],[643,6e-4],[645,2e-3],[648,1e-3],[651,1.5e-6],[653,7.5e-4],[656,6e-5],[659,6e-4],[661,1.3e-4],[664,6e-5],[666,2e-6],[669,7.5e-4]];
const tsuaeQAbnormal = [[671,7e-3],[674,1.2e-2],[677,1.5e-2],[679,7e-3],[682,3.4e-3],[685,5.5e-3],[687,2e-3],[690,1.6e-3],[693,4.3e-3],[695,3.4e-3],[698,7.5e-4],[700,2.6e-3],[703,3.4e-3],[706,1.2e-2],[708,1.9e-2],[711,7e-3],[714,1.9e-2],[716,5.2e-2],[719,2.5e-2],[721,1.2e-2],[724,4e-2],[726,1.9e-2],[729,3.4e-3],[731,1.2e-3],[734,1.3e-4],[737,3.4e-3],[739,7e-3],[742,9e-3],[745,5.5e-3],[747,2.6e-3],[750,2.3e-5],[752,7.5e-4],[755,2e-3],[757,9e-3],[760,4.3e-3],[763,7e-3],[765,1.6e-3],[768,5.5e-3],[771,3.2e-2],[773,4e-2],[776,2.5e-2],[779,8e-5],[781,1.6e-3],[784,3.4e-3],[786,2.6e-3],[789,3.4e-3],[791,2e-3],[794,2.6e-3],[797,1.6e-3],[799,2e-3],[802,6e-4],[804,3.6e-4],[807,4e-6],[810,6e-5],[812,1.2e-3],[815,7e-3],[818,1e-7],[820,1.2e-3],[823,1.2e-2],[826,1.5e-2],[828,1.8e-5],[831,1.2e-3],[833,3.4e-3],[836,1e-7],[839,1.6e-3],[841,5.5e-3],[844,4.3e-3],[847,2.6e-3],[849,8e-5],[852,3.4e-3],[854,1.6e-3],[857,7e-3],[860,5.5e-3],[862,3e-5],[865,2.6e-3],[868,4.3e-3],[870,9e-3],[873,1.2e-2],[876,7e-3],[878,3.4e-3],[881,2e-6],[883,4.6e-4],[886,1.7e-4],[889,7e-6],[891,2.8e-4],[894,3.6e-4],[897,2.3e-5],[899,6e-5],[902,1.3e-4],[904,3.4e-3],[907,9e-6],[909,8e-5],[912,5.5e-3],[915,1.3e-2],[917,1.9e-2],[920,2.8e-2],[922,9e-3],[925,4.3e-3],[928,4e-6],[930,2e-3],[933,5.5e-3],[935,7e-3],[938,9e-3],[941,5.5e-3],[943,1.2e-3],[946,6e-4],[948,2.5e-6],[951,4.6e-4],[954,1.3e-4],[956,2.3e-5],[959,1e-7],[961,1.5e-2],[964,3.2e-2],[967,1.2e-2],[969,2e-3],[972,1e-3],[975,6e-5],[977,1e-4],[980,7.5e-4],[983,1.6e-3],[985,1e-3],[988,2e-3],[990,3.4e-3],[993,7.5e-4],[996,2.8e-4],[998,1.6e-3],[1001,2.2e-4],[1003,7e-6],[1006,2e-3],[1009,4.3e-3],[1011,7e-3],[1014,1.5e-2],[1016,2.2e-2],[1019,9e-3],[1022,4.3e-3],[1024,1.6e-3],[1027,2e-3],[1030,7.5e-4],[1032,2.6e-3],[1035,3.4e-3],[1037,1.2e-3],[1040,1.6e-3],[1043,4.6e-4],[1045,6e-5],[1048,3.8e-5],[1050,6e-4],[1053,2.3e-5],[1056,1e-7],[1058,1.1e-5],[1061,2.8e-4],[1063,4.3e-3],[1066,7e-3],[1069,9e-3],[1071,1.2e-3],[1074,1.3e-4],[1076,4.6e-4],[1079,1.4e-5],[1082,3.2e-6],[1084,6e-5],[1087,1.6e-3],[1089,6e-4],[1092,1e-4],[1095,9e-6],[1097,1.6e-3],[1100,1.2e-2],[1103,1.9e-2],[1105,1.2e-2],[1108,1.5e-2],[1110,2e-3],[1113,2.6e-3],[1116,4.6e-4],[1118,1.6e-3],[1121,4.3e-3],[1124,2e-3],[1126,5.5e-3],[1129,2.8e-4],[1131,2e-3],[1134,4.3e-3],[1137,6e-4],[1139,1.2e-3],[1142,2e-3],[1144,1.7e-4],[1147,1.6e-3],[1150,4.6e-4],[1152,1.6e-3],[1155,1.7e-4],[1158,6e-4],[1160,6e-5],[1163,1e-7],[1166,7.5e-4],[1168,4.6e-4],[1171,6e-5],[1173,1e-3],[1176,2e-3],[1179,4.6e-4],[1181,1.7e-4],[1184,1.2e-3],[1186,7.5e-4],[1189,1e-7],[1191,7e-3],[1194,1.5e-2],[1197,3.4e-3],[1199,4.3e-3],[1202,9e-3],[1204,2.6e-3],[1207,5.5e-3],[1210,3.4e-3],[1212,9e-3],[1215,7e-3],[1217,2e-3],[1220,3.4e-3],[1223,1.6e-3],[1225,4.3e-3],[1228,1e-3],[1230,1e-4],[1233,1e-4],[1236,1.2e-3],[1238,3.4e-3],[1241,5.5e-3],[1244,3.4e-3],[1246,5.5e-3],[1249,1.6e-3],[1251,6e-4],[1254,1e-4],[1256,1.6e-3],[1259,1.7e-4],[1262,3.6e-4],[1264,1.1e-5],[1267,3.4e-3],[1269,1.6e-3],[1272,6e-4],[1275,7e-6],[1278,3.6e-4],[1280,1e-3],[1283,2e-3],[1285,3.4e-3],[1288,4.3e-3],[1291,1.2e-3],[1293,7.5e-4],[1296,9e-3],[1298,1.5e-2],[1301,1.9e-2],[1304,2.5e-2],[1306,1.9e-2],[1309,1.2e-2],[1312,9e-3],[1314,3.4e-3],[1317,4.6e-4],[1320,1.6e-3],[1322,6e-4],[1325,3.4e-3],[1328,2e-3],[1330,1.7e-4],[1333,1.2e-3],[1335,3.4e-3],[1338,4.6e-4],[1341,2e-3],[1343,1.6e-3]];

const processThresholds = { PCA: 1.25, SAE: 0.34, TSSAE: 0.35, TSUAE: 0.29 };
const qualityThresholds = { PLS: 0.23, RR: 0.22, TSSAE: 0.029, TSUAE: 0.016 };

// ---- layout ----
const width = 2388, height = 1193;
const columns = [{ left: 126, right: 1183 }, { left: 1320, right: 2374 }];
const rowTop = [46, 326, 606, 886];
const panelH = 216;
const serif = "'Liberation Serif', 'Times New Roman', Times, serif";
const sans = "'DejaVu Sans', 'Bitstream Vera Sans', sans-serif";
const normalColor = "#0000ff", abnormalColor = "#ff0000";
const seriesWidth = 2.5;

const svg = d3.select("#chart").append("svg")
  .attr("width", width)
  .attr("height", height)
  .attr("viewBox", [0, 0, width, height]);
svg.append("rect").attr("width", width).attr("height", height).attr("fill", "white");

const toPoints = (values, start) => values.map((v, i) => [start + i * processStep, v]);

const panels = [
  { col: 0, row: 0, label: "PCA", normal: toPoints(pcaNormal, 0), abnormal: toPoints(pcaAbnormal, faultStart), threshold: processThresholds.PCA, exps: processTickExps, legend: true },
  { col: 0, row: 1, label: "SAE", normal: toPoints(saeNormal, 0), abnormal: toPoints(saeAbnormal, faultStart), threshold: processThresholds.SAE, exps: processTickExps },
  { col: 0, row: 2, label: "TSSAE", normal: toPoints(tssaeNormal, 0), abnormal: toPoints(tssaeAbnormal, faultStart), threshold: processThresholds.TSSAE, exps: processTickExps },
  { col: 0, row: 3, label: "TSUAE", normal: toPoints(tsuaeNormal, 0), abnormal: toPoints(tsuaeAbnormal, faultStart), threshold: processThresholds.TSUAE, exps: processTickExps },
  { col: 1, row: 0, label: "PLS", normal: plsNormal, abnormal: plsAbnormal, threshold: qualityThresholds.PLS, exps: qualityTickExps },
  { col: 1, row: 1, label: "RR", normal: rrNormal, abnormal: rrAbnormal, threshold: qualityThresholds.RR, exps: qualityTickExps },
  { col: 1, row: 2, label: "TSSAE", normal: tssaeQNormal, abnormal: tssaeQAbnormal, threshold: qualityThresholds.TSSAE, exps: qualityTickExps },
  { col: 1, row: 3, label: "TSUAE", normal: tsuaeQNormal, abnormal: tsuaeQAbnormal, threshold: qualityThresholds.TSUAE, exps: qualityTickExps }
];

const expText = e => (e < 0 ? "\u2212" + (-e) : String(e));

panels.forEach((p, k) => {
  const c = columns[p.col];
  const top = rowTop[p.row], bottom = top + panelH;
  const lo = Math.pow(10, d3.min(p.exps)), hi = Math.pow(10, d3.max(p.exps));
  const x = d3.scaleLinear().domain([0, sampleMax]).range([c.left, c.right]);
  const y = d3.scaleLog().domain([lo, hi]).range([bottom, top]);
  const g = svg.append("g");

  const clipId = "clip" + k;
  g.append("clipPath").attr("id", clipId)
    .append("rect").attr("x", c.left).attr("y", top).attr("width", c.right - c.left).attr("height", panelH);

  const line = d3.line().x(d => x(d[0])).y(d => y(d[1]));
  const plot = g.append("g").attr("clip-path", `url(#${clipId})`);
  plot.append("path")
    .attr("d", line(p.normal))
    .attr("fill", "none").attr("stroke", normalColor).attr("stroke-width", seriesWidth).attr("stroke-linejoin", "round");
  plot.append("path")
    .attr("d", line([p.normal[p.normal.length - 1], ...p.abnormal]))
    .attr("fill", "none").attr("stroke", abnormalColor).attr("stroke-width", seriesWidth).attr("stroke-linejoin", "round");
  plot.append("line")
    .attr("x1", x(0)).attr("x2", x(sampleMax))
    .attr("y1", y(p.threshold)).attr("y2", y(p.threshold))
    .attr("stroke", "black").attr("stroke-width", 3).attr("stroke-dasharray", "11,5");

  // y axis: major ticks at decades, minor ticks between
  const majors = p.exps.map(e => Math.pow(10, e));
  const minors = y.ticks().filter(v => !majors.some(m => Math.abs(v / m - 1) < 1e-9));
  g.append("g").attr("transform", `translate(${c.left},0)`)
    .call(d3.axisLeft(y).tickValues(minors).tickSize(2.5).tickFormat(""))
    .call(a => a.select(".domain").remove())
    .call(a => a.selectAll(".tick line").attr("stroke-width", 1));
  g.append("g").attr("transform", `translate(${c.left},0)`)
    .call(d3.axisLeft(y).tickValues(majors).tickSize(4.5).tickFormat(""))
    .call(a => a.select(".domain").remove())
    .call(a => a.selectAll(".tick line").attr("stroke-width", 1.3));
  p.exps.forEach(e => {
    const t = g.append("text")
      .attr("x", c.left - 9)
      .attr("y", y(Math.pow(10, e)) + 11)
      .attr("text-anchor", "end")
      .attr("font-family", sans).attr("font-size", 28).attr("fill", "black")
      .text("10");
    t.append("tspan").attr("dy", -10).attr("font-size", 18).text(expText(e));
  });

  // x axis
  g.append("g").attr("transform", `translate(0,${bottom})`)
    .call(d3.axisBottom(x).tickValues(xTicks).tickSize(5).tickPadding(8).tickFormat(d3.format("d")))
    .call(a => a.select(".domain").remove())
    .call(a => a.selectAll(".tick line").attr("stroke-width", 1.3))
    .call(a => a.selectAll(".tick text").attr("font-family", sans).attr("font-size", 28).attr("fill", "black"));

  // frame
  g.append("rect")
    .attr("x", c.left).attr("y", top).attr("width", c.right - c.left).attr("height", panelH)
    .attr("fill", "none").attr("stroke", "black").attr("stroke-width", 1.5);

  // y label
  g.append("text")
    .attr("transform", `translate(${c.left - 88},${top + panelH / 2}) rotate(-90)`)
    .attr("text-anchor", "middle")
    .attr("font-family", serif).attr("font-weight", "bold").attr("font-size", 41)
    .text(p.label);

  if (p.row === 0) {
    g.append("text")
      .attr("x", (c.left + c.right) / 2).attr("y", 39)
      .attr("text-anchor", "middle")
      .attr("font-family", serif).attr("font-weight", "bold").attr("font-size", 41)
      .text(panelTitles[p.col]);
  }
  if (p.row === rowTop.length - 1) {
    g.append("text")
      .attr("x", (c.left + c.right) / 2).attr("y", 1175)
      .attr("text-anchor", "middle")
      .attr("font-family", serif).attr("font-weight", "bold").attr("font-size", 41)
      .text("Samples");
  }

  if (p.legend) {
    const lx = c.right - 188, ly = top + 109;
    const lg = g.append("g").attr("transform", `translate(${lx},${ly})`);
    lg.append("rect")
      .attr("width", 176).attr("height", 97).attr("rx", 4)
      .attr("fill", "white").attr("fill-opacity", 0.8)
      .attr("stroke", "#cccccc").attr("stroke-width", 1.2);
    const styles = [
      { color: normalColor, dash: null, w: seriesWidth },
      { color: abnormalColor, dash: null, w: seriesWidth },
      { color: "black", dash: "11,5", w: 3 }
    ];
    legendLabels.forEach((name, i) => {
      const ry = 17 + i * 30;
      lg.append("line")
        .attr("x1", 6).attr("x2", 48).attr("y1", ry).attr("y2", ry)
        .attr("stroke", styles[i].color).attr("stroke-width", styles[i].w)
        .attr("stroke-dasharray", styles[i].dash);
      lg.append("text")
        .attr("x", 67).attr("y", ry + 7)
        .attr("font-family", sans).attr("font-size", 20).attr("fill", "black")
        .text(name);
    });
  }
});
</script>
</body>
</html>
